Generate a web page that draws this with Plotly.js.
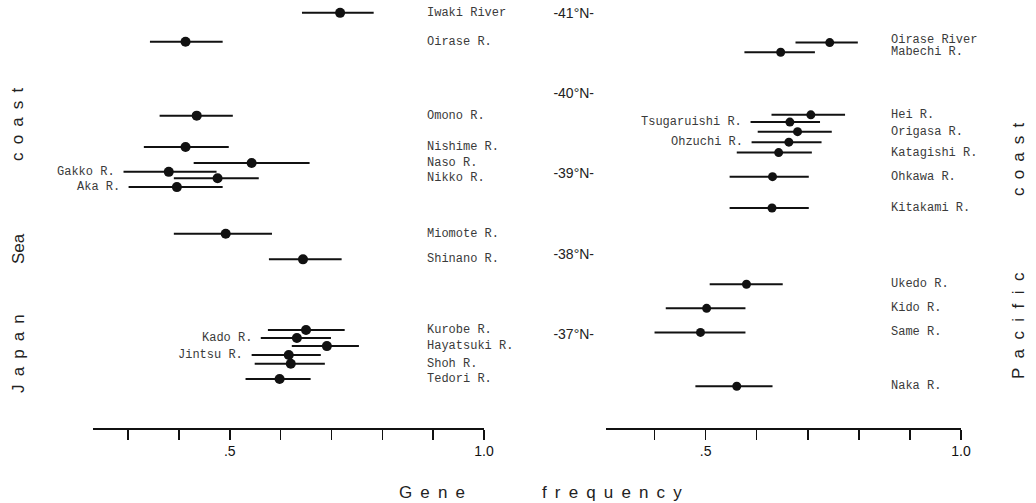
<!DOCTYPE html>
<html>
<head>
<meta charset="utf-8">
<script src="https://cdn.plot.ly/plotly-3.0.1.min.js"></script>
<style>html,body{margin:0;padding:0;background:#fff;}#chart{width:1036px;height:503px;}</style>
</head>
<body>
<div id="chart"></div>
<script>
// ---- Japan Sea coast ----
const japanSeaRivers = ["Iwaki River","Oirase R.","Omono R.","Nishime R.","Naso R.","Gakko R.","Nikko R.","Aka R.","Miomote R.","Shinano R.","Kurobe R.","Kado R.","Hayatsuki R.","Jintsu R.","Shoh R.","Tedori R."];
const japanSeaLat   = [41.00, 40.64, 39.72, 39.33, 39.13, 39.02, 38.94, 38.83, 38.25, 37.93, 37.05, 36.95, 36.85, 36.74, 36.63, 36.44];
const japanSeaFreq  = [0.717, 0.413, 0.435, 0.413, 0.543, 0.380, 0.476, 0.396, 0.492, 0.644, 0.650, 0.632, 0.691, 0.616, 0.620, 0.598];
const japanSeaLow   = [0.642, 0.343, 0.362, 0.331, 0.429, 0.291, 0.390, 0.301, 0.390, 0.577, 0.575, 0.561, 0.622, 0.543, 0.549, 0.531];
const japanSeaHigh  = [0.783, 0.486, 0.506, 0.498, 0.657, 0.474, 0.557, 0.486, 0.583, 0.720, 0.726, 0.699, 0.754, 0.679, 0.687, 0.659];

// ---- Pacific coast ----
const pacificRivers = ["Oirase River","Mabechi R.","Hei R.","Tsugaruishi R.","Origasa R.","Ohzuchi R.","Katagishi R.","Ohkawa R.","Kitakami R.","Ukedo R.","Kido R.","Same R.","Naka R."];
const pacificLat    = [40.63, 40.51, 39.73, 39.64, 39.52, 39.39, 39.26, 38.96, 38.57, 37.62, 37.32, 37.02, 36.35];
const pacificFreq   = [0.743, 0.647, 0.706, 0.665, 0.680, 0.663, 0.643, 0.631, 0.630, 0.580, 0.502, 0.490, 0.561];
const pacificLow    = [0.676, 0.576, 0.629, 0.588, 0.602, 0.590, 0.561, 0.547, 0.547, 0.508, 0.422, 0.400, 0.480];
const pacificHigh   = [0.798, 0.714, 0.773, 0.724, 0.747, 0.727, 0.708, 0.702, 0.702, 0.651, 0.578, 0.578, 0.631];

// rivers whose name is written to the left of their bar
const labelsOnLeft = ["Gakko R.","Aka R.","Kado R.","Jintsu R.","Tsugaruishi R.","Ohzuchi R."];

// axes
const latTicks  = [37, 38, 39, 40, 41];
const latLabels = ["-37°N-", "-38°N-", "-39°N-", "-40°N-", "-41°N-"];
const freqTicks = [0.3, 0.4, 0.5, 0.6, 0.7, 0.8, 0.9, 1.0];
const freqTickLabels = ["", "", ".5", "", "", "", "", "1.0"];

const W = 1036, H = 503, MB = 75, PH = H - MB;
const Y_RANGE = [35.83, 41.16];
const INK = "#111";
const LABEL_FONT = {family: "Liberation Mono, DejaVu Sans Mono, monospace", size: 12, color: "#3a3a3a"};
const SANS = "Liberation Sans, Arial, sans-serif";

function trace(freq, lat, low, high, xa, msize) {
  return {
    type: "scatter", mode: "markers", x: freq, y: lat, xaxis: xa, yaxis: "y",
    marker: {color: INK, size: msize},
    error_x: {type: "data", symmetric: false,
      array: high.map((h, i) => h - freq[i]),
      arrayminus: low.map((l, i) => freq[i] - l),
      thickness: 2, width: 0, color: INK},
    cliponaxis: false, hoverinfo: "skip", showlegend: false
  };
}

const pxPerDeg = PH / (Y_RANGE[1] - Y_RANGE[0]);
const annotations = [];
function addLabels(names, lat, low, xref, rightX) {
  // keep right-hand labels at least one line apart (push the upper one up)
  const MIN_GAP = 12;
  const shifts = names.map(() => 0);
  let prevIdx = -1;
  names.forEach((n, i) => {
    if (labelsOnLeft.includes(n)) return;
    if (prevIdx >= 0) {
      const gap = (lat[prevIdx] - lat[i]) * pxPerDeg + shifts[prevIdx];
      if (gap < MIN_GAP) shifts[prevIdx] += (MIN_GAP - gap);
    }
    prevIdx = i;
  });
  names.forEach((n, i) => {
    if (labelsOnLeft.includes(n)) {
      annotations.push({text: n, x: low[i], y: lat[i], xref: xref, yref: "y",
        xanchor: "right", yanchor: "middle", xshift: -7, showarrow: false, font: LABEL_FONT});
    } else {
      annotations.push({text: n, x: rightX, y: lat[i], xref: "paper", yref: "y",
        xanchor: "left", yanchor: "middle", yshift: shifts[i], showarrow: false, font: LABEL_FONT});
    }
  });
}
addLabels(japanSeaRivers, japanSeaLat, japanSeaLow, "x", 425 / W);
addLabels(pacificRivers, pacificLat, pacificLow, "x2", 889 / W);

// spaced-out titles (pixel centres converted to paper coords)
const spaced = (word, sep) => word.split("").join(sep);
const WIDE = " \u2009", MID = " \u00a0", NONE = "";
const py2paper = py => (PH - py) / PH;
const sideFont = {family: SANS, size: 17, color: "#222"};
[["coast", WIDE, 18, 125], ["Sea", NONE, 18, 249], ["Japan", WIDE, 18, 354],
 ["coast", WIDE, 1018, 160], ["Pacific", MID, 1018, 326]].forEach(([t, sep, px, py]) => {
  annotations.push({text: spaced(t, sep), x: px / W, y: py2paper(py), xref: "paper", yref: "paper",
    xanchor: "center", yanchor: "middle", textangle: -90, showarrow: false, font: sideFont});
});
[["Gene", 432], ["frequency", 612]].forEach(([t, px]) => {
  annotations.push({text: spaced(t, WIDE), x: px / W, y: py2paper(492), xref: "paper", yref: "paper",
    xanchor: "center", yanchor: "middle", showarrow: false, font: sideFont});
});

function xAxis(domain, range, vals) {
  return {domain: domain, range: range, anchor: "y",
    showgrid: false, zeroline: false, showline: true, linecolor: INK, linewidth: 1.5,
    ticks: "outside", ticklen: 10, tickwidth: 1.5, tickcolor: INK,
    tickmode: "array", tickvals: vals, ticktext: vals.map(v => freqTickLabels[freqTicks.indexOf(v)]),
    tickfont: {family: SANS, size: 14, color: INK}, fixedrange: true};
}

const layout = {
  width: W, height: H,
  margin: {l: 0, r: 0, t: 0, b: MB},
  paper_bgcolor: "#fff", plot_bgcolor: "#fff",
  xaxis: xAxis([93 / W, 484 / W], [0.231, 1.0], freqTicks),
  xaxis2: xAxis([606 / W, 961 / W], [0.305, 1.0], freqTicks.filter(v => v >= 0.4)),
  yaxis: {domain: [0, 1], range: Y_RANGE, anchor: "x2", side: "left",
    showgrid: false, zeroline: false, showline: false, ticks: "",
    tickmode: "array", tickvals: latTicks, ticktext: latLabels, ticklabelstandoff: 11,
    tickfont: {family: SANS, size: 14, color: "#222"}, fixedrange: true},
  annotations: annotations,
  showlegend: false
};

Plotly.newPlot("chart", [
  trace(japanSeaFreq, japanSeaLat, japanSeaLow, japanSeaHigh, "x", 10),
  trace(pacificFreq, pacificLat, pacificLow, pacificHigh, "x2", 9)
], layout, {staticPlot: true, displayModeBar: false});
</script>
</body>
</html>
